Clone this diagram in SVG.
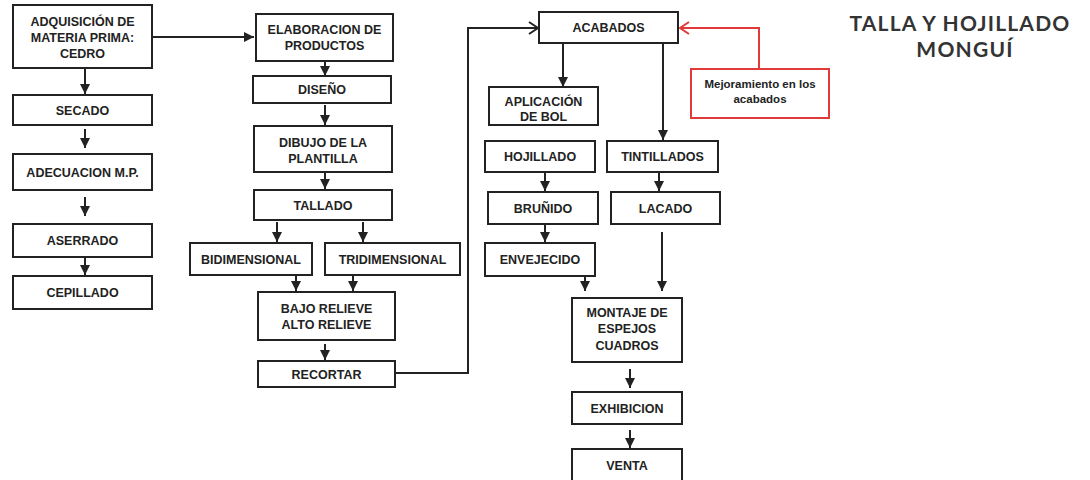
<svg xmlns="http://www.w3.org/2000/svg" width="1090" height="480" viewBox="0 0 1090 480">
<defs>
<marker id="fa" markerUnits="userSpaceOnUse" markerWidth="11" markerHeight="11" refX="10" refY="5.5" orient="auto"><path d="M0,0.5 L10,5.5 L0,10.5 Z" fill="#222"/></marker>
<marker id="oa" markerUnits="userSpaceOnUse" markerWidth="12" markerHeight="14" refX="10" refY="7" orient="auto"><path d="M1,1 L10,7 L1,13" fill="none" stroke="#222" stroke-width="2"/></marker>
<marker id="ra" markerUnits="userSpaceOnUse" markerWidth="12" markerHeight="14" refX="10" refY="7" orient="auto"><path d="M1,1 L10,7 L1,13" fill="none" stroke="#e03a3a" stroke-width="2"/></marker>
</defs>
<style>
.b{fill:#fff;stroke:#222;stroke-width:2}
.r{fill:#fff;stroke:#e03a3a;stroke-width:2}
.t{font-family:"Liberation Sans",Arial,sans-serif;font-weight:bold;font-size:12.5px;fill:#222;text-anchor:middle}
.s{font-family:"Liberation Sans",Arial,sans-serif;font-weight:bold;font-size:11.5px;fill:#222;text-anchor:middle}
.c{fill:none;stroke:#222;stroke-width:2}
.cf{fill:none;stroke:#222;stroke-width:2;marker-end:url(#fa)}
.h{font-family:Lato,"Open Sans",sans-serif;font-weight:bold;font-size:21px;letter-spacing:1.2px;fill:#333;text-anchor:middle}
</style>
<rect width="1090" height="480" fill="#fff"/>
<g id="connectors">
<line class="cf" x1="152" y1="37" x2="254" y2="37"/>
<line class="cf" x1="85" y1="68" x2="85" y2="94"/>
<line class="cf" x1="85" y1="129" x2="85" y2="148"/>
<line class="cf" x1="85" y1="197" x2="85" y2="216"/>
<line class="cf" x1="85" y1="257" x2="85" y2="275"/>
<line class="cf" x1="325" y1="61" x2="325" y2="76"/>
<line class="cf" x1="325" y1="105" x2="325" y2="125"/>
<line class="cf" x1="325" y1="173" x2="325" y2="189"/>
<line class="cf" x1="277" y1="222" x2="277" y2="242"/>
<line class="cf" x1="363" y1="222" x2="363" y2="242"/>
<line class="cf" x1="296" y1="275" x2="296" y2="291"/>
<line class="cf" x1="353" y1="275" x2="353" y2="291"/>
<line class="cf" x1="325" y1="344" x2="325" y2="360"/>
<polyline class="c" points="395,373 468,373 468,28 538,28" marker-end="url(#oa)"/>
<polyline fill="none" stroke="#e03a3a" stroke-width="2" points="759,69 759,28 680,28" marker-end="url(#ra)"/>
<line class="cf" x1="563" y1="43" x2="563" y2="87"/>
<line class="cf" x1="663" y1="43" x2="663" y2="140"/>
<line class="cf" x1="545" y1="172" x2="545" y2="191"/>
<line class="cf" x1="659" y1="172" x2="659" y2="191"/>
<line class="cf" x1="545" y1="224" x2="545" y2="242"/>
<line class="cf" x1="585" y1="276" x2="585" y2="291"/>
<line class="cf" x1="662" y1="232" x2="662" y2="291"/>
<line class="cf" x1="630" y1="369" x2="630" y2="388"/>
<line class="cf" x1="630" y1="430" x2="630" y2="448"/>
</g>
<g id="n-adquisicion"><rect class="b" x="13" y="5" width="139" height="63"/><text class="t" x="82.5" y="26">ADQUISICIÓN DE</text><text class="t" x="82.5" y="42">MATERIA PRIMA:</text><text class="t" x="82.5" y="57.5">CEDRO</text></g>
<g id="n-secado"><rect class="b" x="13" y="95" width="139" height="30"/><text class="t" x="82.5" y="114.5">SECADO</text></g>
<g id="n-adecuacion"><rect class="b" x="13" y="154" width="139" height="36"/><text class="t" x="82.5" y="176.5">ADECUACION M.P.</text></g>
<g id="n-aserrado"><rect class="b" x="13" y="224" width="139" height="33"/><text class="t" x="82.5" y="245">ASERRADO</text></g>
<g id="n-cepillado"><rect class="b" x="13" y="276" width="139" height="33"/><text class="t" x="82.5" y="297">CEPILLADO</text></g>
<g id="n-elaboracion"><rect class="b" x="256" y="14" width="137" height="47"/><text class="t" x="324.5" y="34">ELABORACION DE</text><text class="t" x="324.5" y="50">PRODUCTOS</text></g>
<g id="n-diseno"><rect class="b" x="253" y="76" width="138" height="27"/><text class="t" x="322" y="94">DISEÑO</text></g>
<g id="n-dibujo"><rect class="b" x="254" y="126" width="138" height="46"/><text class="t" x="323" y="146.5">DIBUJO DE LA</text><text class="t" x="323" y="162.5">PLANTILLA</text></g>
<g id="n-tallado"><rect class="b" x="254" y="190" width="138" height="30"/><text class="t" x="323" y="209.5">TALLADO</text></g>
<g id="n-bidimensional"><rect class="b" x="190" y="243" width="122" height="32"/><text class="t" x="251" y="263.5">BIDIMENSIONAL</text></g>
<g id="n-tridimensional"><rect class="b" x="325" y="243" width="135" height="32"/><text class="t" x="392.5" y="263.5">TRIDIMENSIONAL</text></g>
<g id="n-relieve"><rect class="b" x="258" y="292" width="137" height="48"/><text class="t" x="326.5" y="312.5">BAJO RELIEVE</text><text class="t" x="326.5" y="328.5">ALTO RELIEVE</text></g>
<g id="n-recortar"><rect class="b" x="258" y="361" width="137" height="26"/><text class="t" x="326.5" y="378.5">RECORTAR</text></g>
<g id="n-acabados"><rect class="b" x="539" y="12" width="139" height="31"/><text class="t" x="608.5" y="32">ACABADOS</text></g>
<g id="n-mejoramiento"><rect class="r" x="691" y="69" width="138" height="49"/><text class="s" x="760" y="88">Mejoramiento en los</text><text class="s" x="760" y="103">acabados</text></g>
<g id="n-aplicacion"><rect class="b" x="489" y="87" width="109" height="38"/><text class="t" x="543.5" y="105.5">APLICACIÓN</text><text class="t" x="543.5" y="120.5">DE BOL</text></g>
<g id="n-hojillado"><rect class="b" x="485" y="141" width="110" height="31"/><text class="t" x="540" y="161">HOJILLADO</text></g>
<g id="n-tintillados"><rect class="b" x="607" y="141" width="111" height="31"/><text class="t" x="662.5" y="161">TINTILLADOS</text></g>
<g id="n-brunido"><rect class="b" x="488" y="192" width="110" height="32"/><text class="t" x="543" y="212.5">BRUÑIDO</text></g>
<g id="n-lacado"><rect class="b" x="611" y="192" width="109" height="32"/><text class="t" x="665.5" y="212.5">LACADO</text></g>
<g id="n-envejecido"><rect class="b" x="485" y="243" width="110" height="33"/><text class="t" x="540" y="264">ENVEJECIDO</text></g>
<g id="n-montaje"><rect class="b" x="572" y="298" width="110" height="64"/><text class="t" x="627" y="317">MONTAJE DE</text><text class="t" x="627" y="333">ESPEJOS</text><text class="t" x="627" y="349.5">CUADROS</text></g>
<g id="n-exhibicion"><rect class="b" x="572" y="392" width="110" height="32"/><text class="t" x="627" y="412.5">EXHIBICION</text></g>
<g id="n-venta"><rect class="b" x="572" y="449" width="110" height="40"/><text class="t" x="627" y="470">VENTA</text></g>
<g id="title"><text class="h" x="960" y="31">TALLA Y HOJILLADO</text><text class="h" x="965" y="57">MONGUÍ</text></g>
</svg>
